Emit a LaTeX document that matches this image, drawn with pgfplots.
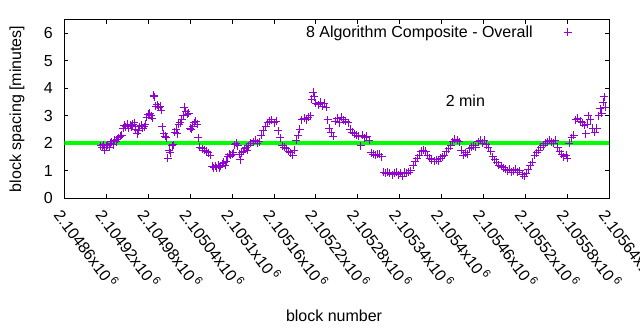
\documentclass[border=0pt]{standalone}
\usepackage{pgfplots}
\pgfplotsset{compat=1.18}
\usepackage{fontspec}
\setmainfont{Liberation Sans}
\definecolor{gpviolet}{RGB}{148,0,211}
\definecolor{gpgreen}{RGB}{0,255,0}
\pgfplotstableread{
x y
2104912 1.90
2104914 1.85
2104916 1.95
2104918 1.75
2104920 1.90
2104922 1.95
2104924 1.85
2104926 2.00
2104928 2.05
2104930 1.95
2104932 2.10
2104934 2.05
2104936 2.15
2104938 2.20
2104940 2.25
2104942 2.30
2104944 2.55
2104946 2.65
2104948 2.60
2104950 2.70
2104952 2.55
2104954 2.65
2104956 2.60
2104958 2.70
2104960 2.75
2104962 2.50
2104964 2.35
2104966 2.45
2104968 2.60
2104970 2.65
2104972 2.55
2104974 2.60
2104976 2.70
2104978 2.95
2104980 3.05
2104982 3.10
2104984 3.00
2104986 2.90
2104988 3.75
2104989 3.70
2104991 3.35
2104993 3.40
2104995 3.30
2104997 3.35
2104999 3.20
2105000 2.60
2105002 2.35
2105004 2.25
2105006 2.20
2105008 1.45
2105010 1.75
2105012 1.65
2105014 1.90
2105016 1.95
2105018 2.40
2105020 2.50
2105022 2.35
2105024 2.70
2105026 2.75
2105028 2.85
2105030 3.00
2105032 3.30
2105034 3.15
2105036 3.05
2105038 3.10
2105040 2.55
2105042 2.50
2105044 2.60
2105046 2.75
2105048 2.80
2105050 2.70
2105052 2.20
2105054 1.85
2105057 1.80
2105060 1.75
2105063 1.70
2105066 1.65
2105069 1.55
2105072 1.15
2105074 1.10
2105076 1.15
2105078 1.10
2105080 1.20
2105082 1.10
2105084 1.15
2105086 1.25
2105088 1.30
2105090 1.20
2105092 1.35
2105094 1.50
2105096 1.60
2105098 1.55
2105100 1.60
2105102 1.65
2105104 1.95
2105106 2.00
2105108 1.90
2105110 1.60
2105112 1.40
2105114 1.65
2105116 1.70
2105118 1.80
2105120 1.85
2105122 1.75
2105124 1.90
2105127 2.00
2105130 2.05
2105133 2.10
2105136 2.00
2105139 2.05
2105142 2.30
2105145 2.45
2105148 2.60
2105151 2.75
2105154 2.80
2105157 2.85
2105160 2.75
2105163 2.80
2105166 2.45
2105169 2.20
2105172 1.90
2105175 1.85
2105178 1.80
2105181 1.70
2105184 1.65
2105187 1.55
2105189 1.75
2105192 2.10
2105195 2.30
2105197 2.50
2105200 2.85
2105203 2.90
2105206 2.85
2105209 2.95
2105212 3.00
2105214 3.60
2105216 3.85
2105218 3.70
2105220 3.45
2105223 3.40
2105226 3.50
2105229 3.35
2105232 3.45
2105235 3.30
2105237 2.85
2105239 2.55
2105242 2.40
2105245 2.25
2105248 2.80
2105251 2.90
2105254 2.75
2105257 2.95
2105260 2.85
2105263 2.80
2105266 2.75
2105269 2.50
2105272 2.40
2105275 2.35
2105278 2.30
2105281 2.25
2105284 1.90
2105287 2.30
2105290 2.20
2105293 2.25
2105296 2.10
2105299 1.65
2105302 1.60
2105305 1.55
2105308 1.60
2105311 1.60
2105314 1.50
2105317 0.95
2105320 0.90
2105323 0.95
2105326 0.90
2105329 0.85
2105332 0.90
2105335 0.95
2105338 0.85
2105341 0.90
2105344 0.80
2105347 0.95
2105350 0.90
2105353 0.95
2105356 1.00
2105359 1.20
2105362 1.35
2105365 1.45
2105368 1.55
2105371 1.70
2105374 1.75
2105377 1.70
2105380 1.55
2105383 1.45
2105386 1.40
2105389 1.35
2105392 1.40
2105395 1.35
2105398 1.45
2105401 1.50
2105404 1.55
2105407 1.70
2105410 1.80
2105413 1.90
2105416 2.05
2105419 2.15
2105422 2.10
2105425 2.05
2105428 1.75
2105431 1.55
2105434 1.65
2105437 1.60
2105440 1.80
2105443 1.85
2105446 1.90
2105449 1.85
2105452 2.05
2105455 2.10
2105458 2.00
2105461 2.10
2105464 1.95
2105467 1.85
2105470 1.70
2105473 1.50
2105476 1.40
2105479 1.30
2105482 1.20
2105485 1.15
2105488 1.10
2105491 1.05
2105494 1.00
2105497 1.05
2105500 0.95
2105503 1.00
2105506 1.05
2105509 0.95
2105512 1.00
2105515 0.85
2105518 0.80
2105521 0.90
2105524 1.05
2105527 1.20
2105530 1.30
2105533 1.55
2105536 1.65
2105539 1.75
2105542 1.85
2105545 1.90
2105548 2.00
2105551 2.05
2105554 2.10
2105557 2.05
2105560 2.00
2105563 2.10
2105566 1.85
2105569 1.70
2105572 1.60
2105575 1.50
2105578 1.55
2105580 1.45
2105583 2.00
2105586 2.20
2105589 2.30
2105592 2.85
2105595 2.90
2105598 2.80
2105601 2.75
2105604 2.65
2105606 2.35
2105608 2.70
2105610 3.00
2105613 2.85
2105616 2.55
2105619 2.40
2105622 2.55
2105625 3.00
2105627 3.25
2105629 3.10
2105631 3.50
2105633 3.70
2105634 3.30
}\spacing
\begin{document}
\begin{tikzpicture}
\useasboundingbox (-64.3bp,-132bp) rectangle (575.7bp,198bp);
\begin{axis}[
  at={(0,0)}, anchor=south west,
  scale only axis, width=545bp, height=178.3bp,
  font=\fontsize{16bp}{19bp}\selectfont,
  /pgf/number format/assume math mode=true,
  scaled x ticks=false,
  xmin=2104860, xmax=2105640, ymin=0, ymax=6.5,
  xtick={2104860,2104920,2104980,2105040,2105100,2105160,2105220,2105280,2105340,2105400,2105460,2105520,2105580,2105640},
  xticklabels={2.10486x10\,\textsuperscript{6},2.10492x10\,\textsuperscript{6},2.10498x10\,\textsuperscript{6},2.10504x10\,\textsuperscript{6},2.1051x10\,\textsuperscript{6},2.10516x10\,\textsuperscript{6},2.10522x10\,\textsuperscript{6},2.10528x10\,\textsuperscript{6},2.10534x10\,\textsuperscript{6},2.1054x10\,\textsuperscript{6},2.10546x10\,\textsuperscript{6},2.10552x10\,\textsuperscript{6},2.10558x10\,\textsuperscript{6},2.10564x10\,\textsuperscript{6}},
  ytick={0,1,2,3,4,5,6},
  tick align=inside, tick pos=both, major tick length=4bp,
  axis line style={line width=0.8bp},
  every tick/.style={black, line width=0.8bp},
  xticklabel style={xshift=0bp, yshift=-9bp, rotate=-53, anchor=north west, inner sep=0pt},
  yticklabel style={xshift=-8bp},
  xlabel={block number}, ylabel={block spacing [minutes]},
  xlabel style={at={(axis description cs:0.495,-0.662)}, anchor=center},
  ylabel style={at={(axis description cs:-0.0868,0.5)}, anchor=center},
  legend style={draw=none, fill=none, at={(axis description cs:0.434,0.929)}, anchor=west, legend cell align=right,
    /tikz/every odd column/.append style={column sep=29bp}},
  legend plot pos=right,
]
\addplot[only marks, mark=+, mark size=4bp, gpviolet, line width=0.8bp]
  table[x=x,y=y] {\spacing};
\addlegendentry{8 Algorithm Composite - Overall}
\addplot[gpgreen, line width=4bp, forget plot] coordinates {(2104860,2) (2105640,2)};
\node[anchor=center] at (axis cs:2105434,3.53) {2 min};
\end{axis}
\end{tikzpicture}
\end{document}
